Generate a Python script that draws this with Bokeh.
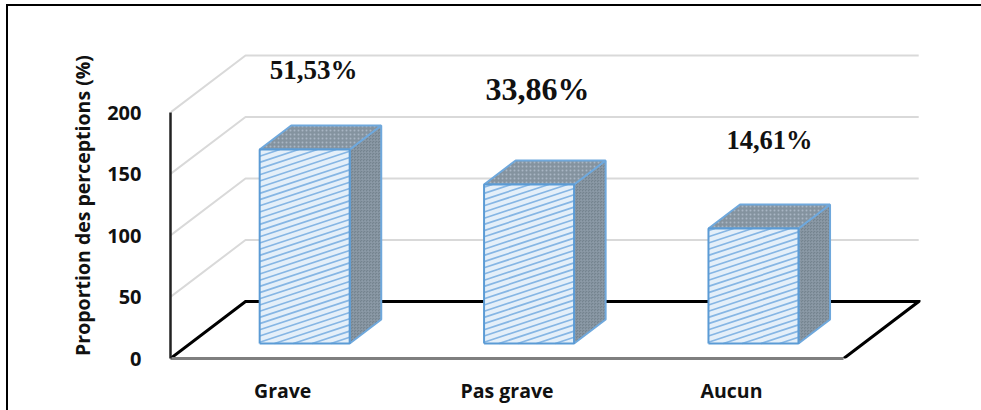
from bokeh.embed import file_html
from bokeh.resources import INLINE
from bokeh.plotting import figure
from bokeh.models import FixedTicker, ColumnDataSource, InlineStyleSheet
from bokeh.core.properties import value

# Chart content
categories = ["Grave", "Pas grave", "Aucun"]
bar_values = [157.7, 129.3, 93.5]
share_labels = ["51,53%", "33,86%", "14,61%"]
tick_values = [0, 50, 100, 150, 200]

# Scale: one category slot and one axis unit, expressed in canvas pixels
W, H = 981, 410
LEFT, RIGHT, TOP, BOTTOM = 170, 920, 52, 358
SLOT_PX = 224.4
UNIT_PX = 1.23
DEPTH_X = 75 / SLOT_PX      # floor depth along x, in slots
DEPTH_Y = 57 / UNIT_PX      # floor depth along y, in axis units
BAR_FRONT, BAR_BACK = 0.263, 0.684
BAR_W = 90 / SLOT_PX
N = len(categories)

BLUE = "#5B9BD5"
GRID = "#D9D9D9"
SERIF = value("Liberation Serif")


def proj(slot, v, d):
    """Project a slot position, axis value and floor depth onto the plot plane."""
    return slot + d * DEPTH_X, v + d * DEPTH_Y


p = figure(
    width=W, height=H, output_backend="svg", toolbar_location=None,
    x_range=(0, (RIGHT - LEFT) / SLOT_PX), y_range=(0, (BOTTOM - TOP) / UNIT_PX),
    min_border_left=LEFT, min_border_right=W - RIGHT,
    min_border_top=TOP, min_border_bottom=H - BOTTOM,
    outline_line_color=None, x_axis_label=None, y_axis_label="Proportion des perceptions (%)",
)
p.grid.visible = False

# Frame round the figure: only its top and left sides fall on the canvas
p.stylesheets = [InlineStyleSheet(css="""
:host { overflow: hidden; }
:host::after {
  content: ""; position: absolute; left: 6px; top: 4px;
  width: 2000px; height: 2000px; border: 2px solid #000; pointer-events: none;
}
""")]

# Axes
yax = p.yaxis[0]
yax.ticker = FixedTicker(ticks=tick_values)
yax.bounds = (tick_values[0], tick_values[-1])
yax.axis_line_color = "#222222"
yax.axis_line_width = 2.5
yax.major_tick_line_color = None
yax.minor_tick_line_color = None
yax.major_label_standoff = 23
yax.major_label_text_font = "Open Sans"
yax.major_label_text_font_style = "bold"
yax.major_label_text_font_size = "20px"
yax.major_label_text_color = "#111111"
yax.axis_label_text_font = "Open Sans"
yax.axis_label_text_font_style = "bold"
yax.axis_label_text_font_size = "19.5px"
yax.axis_label_text_color = "#111111"
yax.axis_label_standoff = 8

xax = p.xaxis[0]
tick_pos = [i + 0.5 for i in range(N)]
xax.ticker = FixedTicker(ticks=tick_pos)
xax.major_label_overrides = {t: c for t, c in zip(tick_pos, categories)}
xax.bounds = (0, N)
xax.axis_line_color = "#7F7F7F"
xax.axis_line_width = 3
xax.major_tick_line_color = None
xax.minor_tick_line_color = None
xax.major_label_standoff = 12
xax.major_label_text_font = "Open Sans"
xax.major_label_text_font_style = "bold"
xax.major_label_text_font_size = "19.5px"
xax.major_label_text_color = "#111111"

# Back wall gridlines with their returns along the side wall
for v in tick_values[1:]:
    x0, y0 = proj(0, v, 0)
    x1, y1 = proj(0, v, 1)
    x2, y2 = proj(N, v, 1)
    p.line([x0, x1, x2], [y0, y1, y2], line_color=GRID, line_width=2)

# Floor outline
fx, fy = zip(proj(0, 0, 0), proj(0, 0, 1), proj(N, 0, 1), proj(N, 0, 0))
p.line(list(fx), list(fy), line_color="#000000", line_width=3, line_join="miter")

# Bars as three visible faces
for i, v in enumerate(bar_values):
    centre = i + 0.5 + 0.01
    xl, xr = centre - BAR_W / 2 + BAR_FRONT * DEPTH_X, centre + BAR_W / 2 + BAR_FRONT * DEPTH_X
    base = BAR_FRONT * DEPTH_Y
    top = base + v
    dx = (BAR_BACK - BAR_FRONT) * DEPTH_X
    dy = (BAR_BACK - BAR_FRONT) * DEPTH_Y

    # side face
    p.patch([xr, xr + dx, xr + dx, xr], [base, base + dy, top + dy, top],
            fill_color="#75848F", hatch_pattern="criss_cross", hatch_color="#8E9CA9",
            hatch_scale=3, hatch_weight=0.6, line_color="#6FA8DC", line_width=2)
    # top face
    p.patch([xl, xr, xr + dx, xl + dx], [top, top, top + dy, top + dy],
            fill_color="#84939F", hatch_pattern="dot", hatch_color="#A9B6C4",
            hatch_scale=4, hatch_weight=1, line_color="#6FA8DC", line_width=2)
    # front face with shallow diagonal stripes clipped to its edges
    p.patch([xl, xr, xr, xl], [base, base, top, top], fill_color="#E4EFF9", line_color=None)
    xs, ys = [], []
    slope = 0.33 * SLOT_PX / UNIT_PX   # axis units per slot
    step = 6.2 / UNIT_PX
    c = base - slope * (xr - xl)
    while c < top:
        ax, ay = xl, c
        bx, by = xr, c + slope * (xr - xl)
        if ay < base:
            ax, ay = xl + (base - c) / slope, base
        if by > top:
            bx, by = xl + (top - c) / slope, top
        xs.append([ax, bx])
        ys.append([ay, by])
        c += step
    p.multi_line(xs, ys, line_color="#86B6E4", line_width=1.7)
    p.line([xl, xr, xr, xl, xl], [base, base, top, top, base], line_color=BLUE, line_width=2)

# Percentage labels above the bars
label_px_x = [313, 537, 769]
label_px_y = [69, 88, 139]
label_size = ["27px", "32px", "26.5px"]
src = ColumnDataSource(dict(
    x=[(px - LEFT) / SLOT_PX for px in label_px_x],
    y=[(BOTTOM - py) / UNIT_PX for py in label_px_y],
    t=share_labels, s=label_size,
))
p.text("x", "y", text="t", source=src, text_font=SERIF, text_font_style="bold",
       text_font_size="s", text_align="center", text_baseline="middle", text_color="#111111")

open("out.html", "w").write(file_html(p, INLINE))
